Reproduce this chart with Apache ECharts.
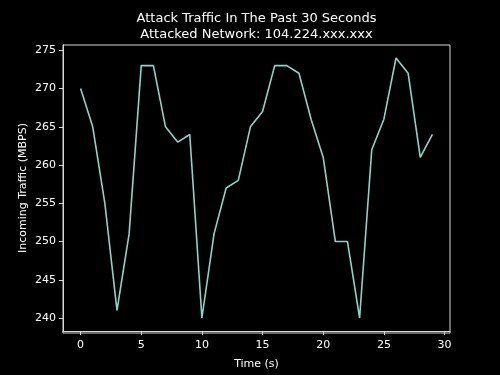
<!DOCTYPE html>
<html>
<head>
<meta charset="utf-8">
<script src="https://cdn.jsdelivr.net/npm/echarts@6/dist/echarts.min.js"></script>
<style>
html,body{margin:0;padding:0;background:#000;}
#chart{width:500px;height:375px;}
</style>
</head>
<body>
<div id="chart"></div>
<script>
const timeSeconds = [0,1,2,3,4,5,6,7,8,9,10,11,12,13,14,15,16,17,18,19,20,21,22,23,24,25,26,27,28,29];
const trafficMbps = [270,265,255,241,251,273,273,265,263,264,240,251,257,258,265,267,273,273,272,266,261,250,250,240,262,266,274,272,261,264];
const xTicks = [0,5,10,15,20,25,30];
const yTicks = [240,245,250,255,260,265,270,275];

const chart = echarts.init(document.getElementById('chart'), null, {renderer:'canvas'});
const fontFamily = 'DejaVu Sans';
const axisColor = '#d8d8d8';
chart.setOption({
  backgroundColor: '#000000',
  animation: false,
  title: {
    text: 'Attack Traffic In The Past 30 Seconds\nAttacked Network: 104.224.xxx.xxx',
    left: 251.5,
    textAlign: 'center',
    top: 6,
    textStyle: {color:'#ffffff', fontFamily: fontFamily, fontSize: 13, fontWeight: 'normal', lineHeight: 16}
  },
  grid: {left: 63, right: 50, top: 45, bottom: 42, containLabel: false},
  xAxis: {
    type: 'value',
    min: -1.45, max: 30.45,
    name: 'Time (s)',
    nameLocation: 'middle',
    nameGap: 28,
    nameMoveOverlap: false,
    nameTextStyle: {color:'#ffffff', fontFamily: fontFamily, fontSize: 11},
    axisLine: {show: true, onZero: false, lineStyle: {color: axisColor, width: 1}},
    axisTick: {show: true, length: 4, customValues: xTicks, lineStyle: {color: axisColor, width: 1}},
    axisLabel: {color:'#ffffff', fontFamily: fontFamily, fontSize: 11, margin: 9, customValues: xTicks},
    splitLine: {show: false}
  },
  yAxis: {
    type: 'value',
    min: 238.3, max: 275.7,
    name: 'Incoming Traffic (MBPS)',
    nameLocation: 'middle',
    nameGap: 34,
    nameRotate: 90,
    nameMoveOverlap: false,
    nameTextStyle: {color:'#ffffff', fontFamily: fontFamily, fontSize: 11},
    axisLine: {show: true, onZero: false, lineStyle: {color: axisColor, width: 1}},
    axisTick: {show: true, length: 4, customValues: yTicks, lineStyle: {color: axisColor, width: 1}},
    axisLabel: {color:'#ffffff', fontFamily: fontFamily, fontSize: 11, margin: 7, customValues: yTicks},
    splitLine: {show: false}
  },
  graphic: [{
    type: 'rect',
    shape: {x: 63, y: 45, width: 387, height: 288},
    style: {fill: 'none', stroke: axisColor, lineWidth: 1},
    silent: true, z: 10
  }],
  series: [{
    type: 'line',
    data: timeSeconds.map((t,i)=>[t, trafficMbps[i]]),
    showSymbol: false,
    symbol: 'none',
    lineStyle: {color: '#8dd3c7', width: 1.6},
    itemStyle: {color: '#8dd3c7'}
  }]
});
</script>
</body>
</html>
